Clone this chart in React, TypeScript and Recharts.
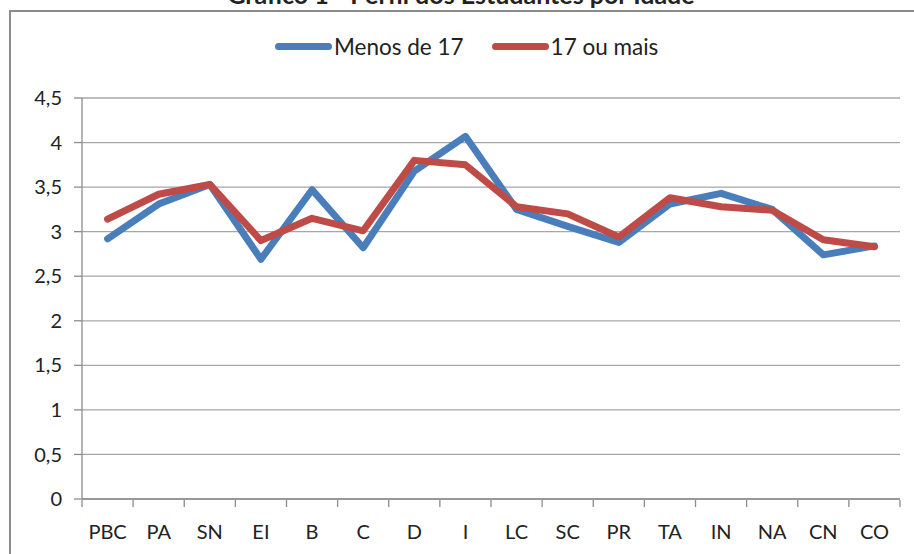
import React from "react";
import { CartesianGrid, Line, LineChart, XAxis, YAxis } from "recharts";

const categories = ["PBC", "PA", "SN", "EI", "B", "C", "D", "I", "LC", "SC", "PR", "TA", "IN", "NA", "CN", "CO"];
const menosDe17 = [2.92, 3.31, 3.53, 2.69, 3.47, 2.82, 3.68, 4.07, 3.25, 3.06, 2.88, 3.31, 3.43, 3.25, 2.74, 2.84];
const dezessete = [3.14, 3.42, 3.53, 2.9, 3.15, 3.01, 3.8, 3.75, 3.28, 3.2, 2.94, 3.38, 3.28, 3.24, 2.91, 2.83];
const yTicks = [0, 0.5, 1, 1.5, 2, 2.5, 3, 3.5, 4, 4.5];

const data = categories.map((name, i) => ({
  name,
  menos: menosDe17[i],
  mais: dezessete[i],
}));

const BLUE = "#4a7ebb";
const RED = "#be4b48";
const AXIS = "#8c8c8c";
const FONT = "Lato, 'Open Sans', sans-serif";

const W = 914;
const H = 554;
const margin = { top: 98, right: 14, bottom: 25, left: 0 };
const yAxisWidth = 82;
const band = (W - margin.right - yAxisWidth) / categories.length;

function CategoryTick(props: any) {
  const { x, y, payload, index } = props;
  const top = y - 7;
  return (
    <g>
      <line x1={x - band / 2} y1={top} x2={x - band / 2} y2={top + 7} stroke={AXIS} strokeWidth={1.3} />
      {index === categories.length - 1 && (
        <line x1={x + band / 2} y1={top} x2={x + band / 2} y2={top + 7} stroke={AXIS} strokeWidth={1.3} />
      )}
      <text x={x} y={top + 39} textAnchor="middle" fill="#222" fontSize={20} fontFamily={FONT}>
        {payload.value}
      </text>
    </g>
  );
}

function LegendItem({ color, label }: { color: string; label: string }) {
  return (
    <div style={{ display: "flex", alignItems: "center" }}>
      <div style={{ width: 57, height: 7, borderRadius: 4, background: color }} />
      <span style={{ marginLeft: 2, fontSize: 22.5, color: "#222" }}>{label}</span>
    </div>
  );
}

export default function App() {
  return (
    <div
      style={{
        position: "fixed",
        left: 0,
        top: 0,
        width: W,
        height: H,
        background: "#fff",
        overflow: "hidden",
        fontFamily: FONT,
      }}
    >
      <div
        style={{
          position: "absolute",
          left: 0,
          width: W,
          top: -21,
          textAlign: "center",
          fontWeight: "bold",
          fontSize: 25,
          lineHeight: "30px",
          color: "#222",
          paddingLeft: 4,
        }}
      >
        Gráfico 1 - Perfil dos Estudantes por Idade
      </div>
      <div
        style={{
          position: "absolute",
          left: 9,
          top: 10,
          width: W,
          height: H,
          borderLeft: `2px solid ${AXIS}`,
          borderTop: `2px solid ${AXIS}`,
        }}
      />
      <div
        style={{
          position: "absolute",
          left: 275,
          top: 33,
          display: "flex",
          gap: 28,
        }}
      >
        <LegendItem color={BLUE} label="Menos de 17" />
        <LegendItem color={RED} label="17 ou mais" />
      </div>
      <div style={{ position: "absolute", left: 0, top: 0 }}>
        <LineChart width={W} height={H} data={data} margin={margin}>
          <CartesianGrid vertical={false} stroke="#a6a6a6" strokeWidth={1.3} />
          <XAxis
            dataKey="name"
            scale="band"
            height={30}
            stroke={AXIS}
            strokeWidth={1.3}
            tickLine={false}
            tick={<CategoryTick />}
            interval={0}
          />
          <YAxis
            width={yAxisWidth}
            domain={[0, 4.5]}
            ticks={yTicks}
            stroke={AXIS}
            strokeWidth={1.3}
            tickSize={8}
            tickMargin={12}
            tickFormatter={(v: number) => String(v).replace(".", ",")}
            tick={{ fontSize: 20, fill: "#222", fontFamily: FONT }}
          />
          <Line
            dataKey="menos"
            name="Menos de 17"
            stroke={BLUE}
            strokeWidth={7}
            dot={false}
            strokeLinejoin="round"
            strokeLinecap="round"
            isAnimationActive={false}
          />
          <Line
            dataKey="mais"
            name="17 ou mais"
            stroke={RED}
            strokeWidth={7}
            dot={false}
            strokeLinejoin="round"
            strokeLinecap="round"
            isAnimationActive={false}
          />
        </LineChart>
      </div>
    </div>
  );
}
